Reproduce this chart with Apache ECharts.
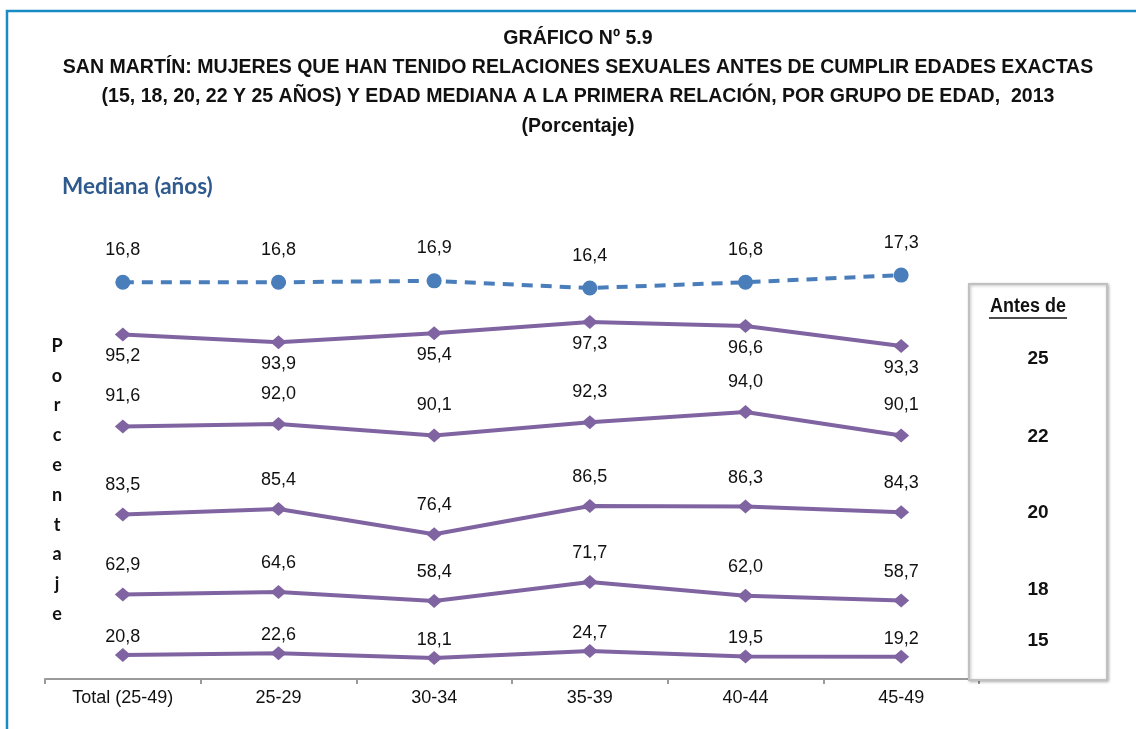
<!DOCTYPE html>
<html><head><meta charset="utf-8">
<script src="https://cdn.jsdelivr.net/npm/echarts@6/dist/echarts.min.js"></script>
<style>html,body{margin:0;padding:0;background:#fff}#c{width:1136px;height:729px}</style>
</head><body><div id="c"></div>
<script>
const categories = ['Total (25-49)', '25-29', '30-34', '35-39', '40-44', '45-49'];
const mediana = [16.8, 16.8, 16.9, 16.4, 16.8, 17.3];
const antes25 = [95.2, 93.9, 95.4, 97.3, 96.6, 93.3];
const antes22 = [91.6, 92.0, 90.1, 92.3, 94.0, 90.1];
const antes20 = [83.5, 85.4, 76.4, 86.5, 86.3, 84.3];
const antes18 = [62.9, 64.6, 58.4, 71.7, 62.0, 58.7];
const antes15 = [20.8, 22.6, 18.1, 24.7, 19.5, 19.2];
const bandLabels = ['25', '22', '20', '18', '15'];
const titleLines = ['GRÁFICO Nº 5.9',
  'SAN MARTÍN: MUJERES QUE HAN TENIDO RELACIONES SEXUALES ANTES DE CUMPLIR EDADES EXACTAS',
  '(15, 18, 20, 22 Y 25 AÑOS) Y EDAD MEDIANA A LA PRIMERA RELACIÓN, POR GRUPO DE EDAD,  2013',
  '(Porcentaje)'];
const yLetters = 'Porcentaje'.split('');

const NARROW = '"Liberation Sans Narrow", "Arial Narrow", "Liberation Sans", sans-serif';
const fmt = p => p.value.toFixed(1).replace('.', ',');

const panels = [
  {data: mediana, min: 16, max: 18, top: 265, height: 28.8, pos: 'top', dist: 16, median: true},
  {data: antes25, min: 90, max: 100, top: 305.7, height: 60, pos: 'bottom', dist: 6},
  {data: antes22, min: 85, max: 95, top: 406.1, height: 60, pos: 'top', dist: 14},
  {data: antes20, min: 70, max: 90, top: 496.2, height: 56, pos: 'top', dist: 13},
  {data: antes18, min: 50, max: 75, top: 577.2, height: 35.8, pos: 'top', dist: 13},
  {data: antes15, min: 10, max: 30, top: 645.3, height: 21.2, pos: 'top', dist: 2}
];

const grid = [], xAxis = [], yAxis = [], series = [];
panels.forEach((p, i) => {
  grid.push({left: 45, width: 934, top: p.top, height: p.height});
  xAxis.push({type: 'category', gridIndex: i, data: categories, boundaryGap: true, show: false});
  yAxis.push({type: 'value', gridIndex: i, min: p.min, max: p.max, show: false});
  series.push({
    type: 'line', xAxisIndex: i, yAxisIndex: i, data: p.data, z: 5,
    symbol: p.median ? 'circle' : 'diamond',
    symbolSize: p.median ? 15 : [16, 14],
    itemStyle: {color: p.median ? '#4A7EBB' : '#8064A2'},
    lineStyle: {color: p.median ? '#4A7EBB' : '#8064A2', width: 4, type: p.median ? [11, 8] : 'solid'},
    label: {show: true, position: p.pos, distance: p.dist, formatter: fmt,
      fontFamily: NARROW, fontSize: 18, color: '#111'},
    animation: false
  });
});
grid.push({left: 45, width: 934, top: 640, height: 39});
xAxis.push({type: 'category', gridIndex: 6, data: categories, boundaryGap: true,
  axisLine: {lineStyle: {color: '#9a9a9a', width: 2}},
  axisTick: {show: true, length: 5, lineStyle: {color: '#9a9a9a', width: 2}},
  axisLabel: {fontFamily: NARROW, fontSize: 18, color: '#111', margin: 10}});
yAxis.push({type: 'value', gridIndex: 6, show: false, min: 0, max: 1});

const graphic = [
  {type: 'rect', shape: {x: 7, y: 11, width: 1140, height: 740}, style: {fill: 'none', stroke: '#1A8AC4', lineWidth: 2.5}, z: 0},
  {type: 'text', x: 62, y: 187, style: {text: 'Mediana (años)', fontFamily: 'Lato, "Open Sans", sans-serif', fontWeight: 'bold', fontSize: 22.5, fill: '#2E5A8E', verticalAlign: 'middle'}},
  {type: 'rect', shape: {x: 969, y: 284, width: 138, height: 396}, style: {fill: '#fff', stroke: '#c0c0c0', lineWidth: 2, shadowBlur: 3, shadowColor: 'rgba(0,0,0,0.25)', shadowOffsetX: 1, shadowOffsetY: 1}, z: 100},
  {type: 'text', x: 1028, y: 307, z: 101, scaleX: 0.92, style: {text: 'Antes de', fontFamily: NARROW, fontWeight: 'bold', fontSize: 19.5, fill: '#111', align: 'center', verticalAlign: 'middle'}},
  {type: 'line', z: 101, shape: {x1: 989, y1: 318, x2: 1067, y2: 318}, style: {stroke: '#111', lineWidth: 1.5}}
];
titleLines.forEach((t, i) => {
  graphic.push({type: 'text', x: 578, y: 38 + i * 29.3, scaleX: 0.93, style: {text: t, fontFamily: NARROW, fontWeight: 'bold', fontSize: 21, fill: '#111', align: 'center', verticalAlign: 'middle'}});
});
const rowY = [359, 437, 513, 590, 641];
bandLabels.forEach((t, i) => {
  graphic.push({type: 'text', x: 1038, y: rowY[i], z: 101, style: {text: t, fontFamily: NARROW, fontWeight: 'bold', fontSize: 19, fill: '#111', align: 'center', verticalAlign: 'middle'}});
});
yLetters.forEach((ch, i) => {
  graphic.push({type: 'text', x: 57, y: 346 + i * 29.8, style: {text: ch, fontFamily: 'Lato, "Open Sans", sans-serif', fontWeight: 'bold', fontSize: 18, fill: '#111', align: 'center', verticalAlign: 'middle'}});
});

const chart = echarts.init(document.getElementById('c'), null, {renderer: 'canvas'});
chart.setOption({animation: false, backgroundColor: '#fff', grid, xAxis, yAxis, series, graphic});
</script></body></html>
